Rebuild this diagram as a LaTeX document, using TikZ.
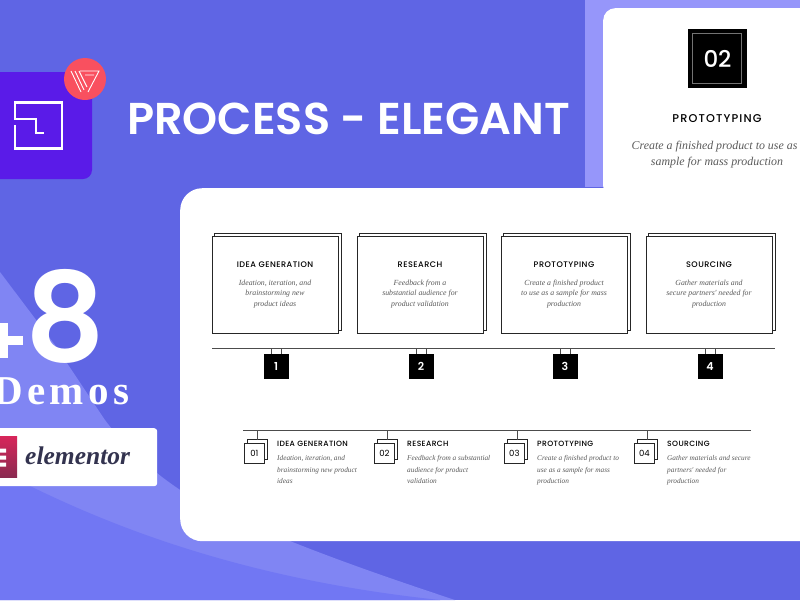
\documentclass[tikz,border=0pt]{standalone}
\usepackage{fontspec}
\setmainfont{Liberation Serif}
\newfontfamily\pop{Poppins}
\newfontfamily\pops{Poppins SemiBold}
\newfontfamily\popm{Poppins Medium}
\newfontfamily\lib{Liberation Serif}
\newcommand{\fs}[2]{\fontsize{#1}{#2}\selectfont}
\definecolor{bgmain}{HTML}{5F65E4}
\definecolor{bglight}{HTML}{8085F3}
\definecolor{bglow}{HTML}{7177F3}
\definecolor{panelc}{HTML}{9696FA}
\definecolor{logoc}{HTML}{5A1BE8}
\definecolor{badgec}{HTML}{F9505F}
\definecolor{txtc}{HTML}{5A5A5A}
\definecolor{elemc}{HTML}{33334F}
\definecolor{eltop}{HTML}{D8265A}
\definecolor{elbot}{HTML}{8A2A50}
\tikzset{
 cardhead/.style={font=\popm\fs{8.1}{9}, text=black, inner sep=0pt},
 carddesc/.style={font=\lib\itshape\fs{7.8}{10.8}, text=txtc, align=center, inner sep=0pt},
 rowhead/.style={font=\popm\fs{7.6}{9}, text=black, anchor=west, inner sep=0pt},
 rowdesc/.style={font=\lib\itshape\fs{7.3}{11.5}, text=txtc, anchor=north west, align=left, inner sep=0pt},
 backbox/.style={draw=black!85, line width=0.8pt, fill=white},
 frontbox/.style={draw=black!85, line width=0.8pt, fill=white},
 blackbox/.style={fill=black, text=white, minimum size=25pt, inner sep=0pt, font=\pops\fs{11}{12}},
 thinl/.style={draw=black!70, line width=0.7pt},
}
\newcommand{\cardbox}[5]{% name, x, head, desc, num
 \path[backbox] (#2+2.5,233.5) rectangle (#2+129,330);
 \node[frontbox, anchor=north west, minimum width=126pt, minimum height=97pt, inner sep=0pt] (#1) at (#2,236) {};
 \node[cardhead] at (#2+63,265) {\addfontfeature{LetterSpace=6}#3};
 \node[carddesc, anchor=north] at (#2+63,279.5) {#4};
 \node[blackbox] (#1n) at (#2+64,366.5) {#5};
 \coordinate (#1a) at (#2+59,348);
 \coordinate (#1b) at (#2+69,348);
 \draw[thinl] (#1a) -- (#1a |- #1n.north);
 \draw[thinl] (#1b) -- (#1b |- #1n.north);
}
\newcommand{\rowitem}[5]{% name, x, num, head, desc
 \path[backbox] (#2+3,439.5) rectangle (#2+23,459.5);
 \node[frontbox, anchor=north west, minimum size=20pt, inner sep=0pt, font=\pop\fs{8.5}{10}] (#1) at (#2,442.5) {#3};
 \coordinate (#1t) at (#2+13,430);
 \draw[thinl] (#1t) -- (#2+13,439.5);
 \node[rowhead] at (#2+33,444) {\addfontfeature{LetterSpace=5}#4};
 \node[rowdesc] at (#2+33,455.5) {#5};
}
\begin{document}
\begin{tikzpicture}[x=1pt,y=-1pt]
\useasboundingbox (0,0) rectangle (800,600);
\clip (0,0) rectangle (800,600);
\fill[bgmain] (0,0) rectangle (800,600);
% swooshes
\fill[bglight] (0,272) -- (55,345) -- (105,420) .. controls (150,480) and (220,520) .. (290,541) .. controls (350,565) and (410,585) .. (455,600) -- (0,600) -- cycle;
\fill[bglow] (30,486) .. controls (120,530) and (250,580) .. (440,600) -- (0,600) -- (0,486) -- cycle;
% top right panel
\fill[panelc] (585,0) rectangle (800,187);
\node[fill=white, rounded corners=12pt, minimum width=217pt, minimum height=190pt, anchor=north west, inner sep=0pt] (topcard) at (603,8) {};
\node[fill=black, minimum size=59pt, inner sep=0pt, text=white, font=\popm\fs{23}{25}] (topnum) at (717.5,58.5) {02};
\draw[black!55!white, line width=0.8pt] (692.5,33.5) rectangle (741.5,83.5);
\node[font=\popm\fs{11.3}{13}, text=black, inner sep=0pt] (tophead) at (717,119) {\addfontfeature{LetterSpace=10}PROTOTYPING};
\node[font=\lib\itshape\fs{11.9}{14}, text=txtc, inner sep=0pt, anchor=west] (topl1) at (631.5,147) {Create a finished product to use as a};
\node[font=\lib\itshape\fs{11.9}{14}, text=txtc, inner sep=0pt] (topl2) at (717,163) {sample for mass production};
% main card
\node[fill=white, rounded corners=22pt, minimum width=660pt, minimum height=353pt, anchor=north west, inner sep=0pt] (maincard) at (180,188) {};
% logo
\fill[logoc, rounded corners=9pt] (-20,72) rectangle (92,179);
\draw[white, line width=2.5pt, line cap=butt, miter limit=10]
  (15,125) -- (15,148.5) -- (62,148.5) -- (62,102.5) -- (15,102.5) -- (15,119) -- (36,119) -- (36,133) -- (44,133);
\node[circle, fill=badgec, minimum size=42pt, inner sep=0pt] (badge) at (85,79) {};
\draw[white, line width=0.9pt] (71,71) -- (81,92) (75,71) -- (84,90) (79,71) -- (87,87)
  (80,71) -- (99,71) -- (88,92) (85,75) -- (94,75);
% title
\node[font=\pops\fs{44.6}{48}, text=white, anchor=west, inner sep=0pt] (title) at (127,119) {PROCESS - ELEGANT};
% +8 Demos
\node[font=\pops\fs{124}{130}, text=white, inner sep=0pt] (eight) at (65,316) {8};
\fill[white] (-12,336) rectangle (23,345);
\fill[white] (-1,323) rectangle (8,358);
\node[font=\lib\bfseries\fs{41}{44}, text=white, anchor=west, inner sep=0pt] (demos) at (-7,391) {\addfontfeature{LetterSpace=11}Demos};
% elementor
\node[fill=white, rounded corners=3pt, minimum width=172pt, minimum height=58pt, anchor=north west, inner sep=0pt] (elbadge) at (-15,428) {};
\fill[top color=eltop, bottom color=elbot] (-10,436) rectangle (17,477);
\fill[white] (-10,448.5) rectangle (6,452.5) (-10,455.5) rectangle (6,459.5) (-10,462.5) rectangle (6,466.5);
\node[font=\lib\bfseries\itshape\fs{25.5}{28}, text=elemc, anchor=west, inner sep=0pt] (eltext) at (25,456) {elementor};
% timeline 1
\coordinate (tla) at (212,348);
\coordinate (tlb) at (775,348);
\cardbox{ca}{212}{IDEA GENERATION}{Ideation, iteration, and\\brainstorming new\\product ideas}{1}
\cardbox{cb}{357}{RESEARCH}{Feedback from a\\substantial audience for\\product validation}{2}
\cardbox{cc}{501}{PROTOTYPING}{Create a finished product\\to use as a sample for mass\\production}{3}
\cardbox{cd}{646}{SOURCING}{Gather materials and\\secure partners' needed for\\production}{4}
\draw[thinl] (tla) -- (tlb);
% timeline 2
\coordinate (tma) at (243,430);
\coordinate (tmb) at (751,430);
\rowitem{ra}{244}{01}{IDEA GENERATION}{Ideation, iteration, and\\brainstorming new product\\ideas}
\rowitem{rb}{374}{02}{RESEARCH}{Feedback from a substantial\\audience for product\\validation}
\rowitem{rc}{504}{03}{PROTOTYPING}{Create a finished product to\\use as a sample for mass\\production}
\rowitem{rd}{634}{04}{SOURCING}{Gather materials and secure\\partners' needed for\\production}
\draw[thinl] (tma) -- (tmb);
\end{tikzpicture}
\end{document}
